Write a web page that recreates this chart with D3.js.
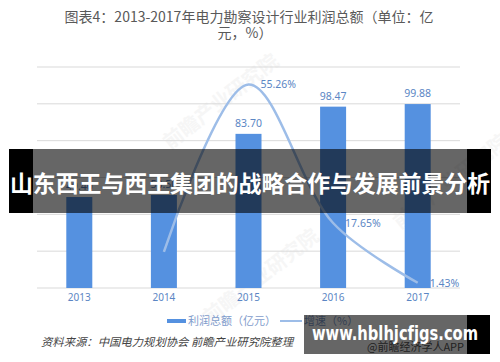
<!DOCTYPE html>
<html>
<head>
<meta charset="utf-8">
<script src="https://cdn.jsdelivr.net/npm/d3@7"></script>
<style>
  body { margin: 0; background: #fff; }
  text { font-family: "Noto Sans CJK SC", "Noto Sans", sans-serif; }
</style>
</head>
<body>
<div class="chart"></div>
<script>
const years = ["2013", "2014", "2015", "2016", "2017"]
const profit = [49.4, 50.5, 83.70, 98.47, 99.88]
const profitLabels = ["49.40", "50.50", "83.70", "98.47", "99.88"]
const growth = [null, 9.8, 55.26, 17.65, 1.43]
const growthLabels = [null, null, "55.26%", "17.65%", "1.43%"]
const profitTicks = [0, 20, 40, 60, 80, 100, 120]

const W = 500, H = 362
const m = { left: 37, right: 460, top: 67, bottom: 288 }

const svg = d3.select(".chart").append("svg").attr("width", W).attr("height", H)
svg.append("rect").attr("width", W).attr("height", H).attr("fill", "#fff")

// title
const title = svg.append("text").attr("text-anchor", "middle").attr("fill", "#595959").style("font-size", "14px")
title.append("tspan").attr("x", 249).attr("y", 22).text("图表4：2013-2017年电力勘察设计行业利润总额（单位：亿")
title.append("tspan").attr("x", 245).attr("y", 38).text("元，%）")

const x = d3.scaleBand().domain(years).range([m.left, m.right])
const y = d3.scaleLinear().domain([0, 120]).range([m.bottom, m.top])
const y2 = d3.scaleLinear().domain([0, 60]).range([m.bottom, m.top])

// faint watermark
const wm = [[170, 150], [400, 230], [210, 325]]
svg.selectAll(".wm").data(wm).enter().append("text")
  .attr("transform", d => `translate(${d[0]},${d[1]}) rotate(-38)`)
  .attr("fill", "#f6f6f6").style("font-size", "20px").style("font-weight", "bold")
  .text("前瞻产业研究院")

// gridlines
svg.selectAll(".grid").data(profitTicks).enter().append("line")
  .attr("x1", m.left).attr("x2", m.right)
  .attr("y1", d => y(d)).attr("y2", d => y(d))
  .attr("stroke", "#d9d9d9").attr("stroke-width", 1)

// x axis
const xAxis = svg.append("g").attr("transform", `translate(0,${m.bottom})`)
  .call(d3.axisBottom(x).tickSize(0).tickPadding(6))
xAxis.select(".domain").remove()
xAxis.selectAll("text").attr("fill", "#5b86c4").style("font-size", "10px")
  .style("font-family", "'Noto Sans', sans-serif")

// bars
const bw = 26
svg.selectAll(".bar").data(profit).enter().append("rect")
  .attr("x", (d, i) => x(years[i]) + x.bandwidth() / 2 - bw / 2)
  .attr("width", bw)
  .attr("y", d => y(d))
  .attr("height", d => y(0) - y(d))
  .attr("fill", "#5591e0")

svg.selectAll(".blab").data(profit).enter().append("text")
  .attr("x", (d, i) => x(years[i]) + x.bandwidth() / 2)
  .attr("y", d => y(d) - 7)
  .attr("text-anchor", "middle").attr("fill", "#5b86c4")
  .style("font-size", "10.5px").style("font-family", "'Noto Sans', sans-serif")
  .text((d, i) => profitLabels[i])

// growth line
const pts = growth.map((g, i) => ({ g, i })).filter(d => d.g !== null)
const line = d3.line()
  .x(d => x(years[d.i]) + x.bandwidth() / 2)
  .y(d => y2(d.g))
  .curve(d3.curveCatmullRom.alpha(0.5))
svg.append("path").datum(pts).attr("d", line)
  .attr("fill", "none").attr("stroke", "#9dbde8").attr("stroke-width", 2.5)

svg.selectAll(".glab").data(pts.filter(d => growthLabels[d.i])).enter().append("text")
  .attr("x", d => x(years[d.i]) + x.bandwidth() / 2 + 12)
  .attr("y", d => y2(d.g) + 4)
  .attr("fill", "#5b86c4").style("font-size", "10.5px")
  .style("font-family", "'Noto Sans', sans-serif")
  .text(d => growthLabels[d.i])

// legend
svg.append("rect").attr("x", 167).attr("y", 319).attr("width", 19).attr("height", 4).attr("fill", "#5591e0")
svg.append("text").attr("x", 188).attr("y", 325).attr("fill", "#7f9ccc").style("font-size", "11px").text("利润总额（亿元）")
svg.append("line").attr("x1", 280).attr("x2", 302).attr("y1", 321).attr("y2", 321)
  .attr("stroke", "#9dbde8").attr("stroke-width", 2)
svg.append("text").attr("x", 304).attr("y", 325).attr("fill", "#7f9ccc").style("font-size", "11px").text("增速（%）")

// source
svg.append("text").attr("x", 41).attr("y", 346).attr("fill", "#444")
  .style("font-size", "11px").style("font-style", "italic")
  .attr("textLength", 252).attr("lengthAdjust", "spacingAndGlyphs")
  .text("资料来源：中国电力规划协会 前瞻产业研究院整理")
svg.append("text").attr("x", 367).attr("y", 351).attr("fill", "#555")
  .style("font-size", "11px").text("@前瞻经济学人APP")

// banner overlay
svg.append("rect").attr("x", 9).attr("y", 149).attr("width", 24).attr("height", 64).attr("fill", "#000")
svg.append("rect").attr("x", 467).attr("y", 149).attr("width", 24).attr("height", 64).attr("fill", "#000")
svg.append("rect").attr("x", 33).attr("y", 149).attr("width", 434).attr("height", 64).attr("fill", "#000").attr("opacity", 0.6)
svg.append("text").attr("x", 250).attr("y", 192).attr("text-anchor", "middle")
  .attr("fill", "#fff").style("font-size", "22.8px").style("font-weight", "bold")
  .attr("textLength", 480).attr("lengthAdjust", "spacingAndGlyphs")
  .text("山东西王与西王集团的战略合作与发展前景分析")

// site watermark box
svg.append("rect").attr("x", 304).attr("y", 315).attr("width", 163).attr("height", 39).attr("fill", "#000").attr("opacity", 0.6)
svg.append("rect").attr("x", 467).attr("y", 315).attr("width", 23).attr("height", 39).attr("fill", "#000")
svg.append("text").attr("x", 312).attr("y", 340)
  .attr("fill", "#fff").style("font-size", "19px").style("font-weight", "bold")
  .style("font-family", "'DejaVu Sans', sans-serif")
  .attr("textLength", 166).attr("lengthAdjust", "spacingAndGlyphs")
  .text("www.hblhjcfjgs.com")
</script>
</body>
</html>
